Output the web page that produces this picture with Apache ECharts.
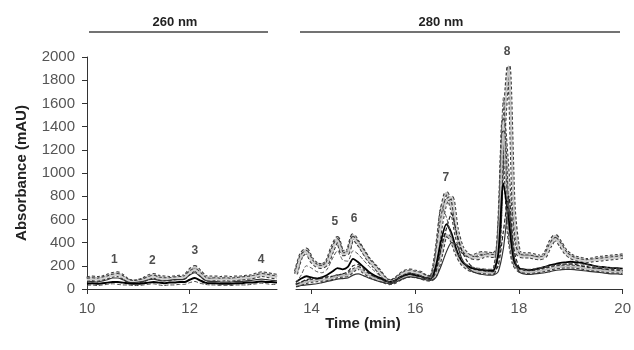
<!DOCTYPE html>
<html>
<head>
<meta charset="utf-8">
<title>Absorbance vs time</title>
<script src="https://cdn.jsdelivr.net/npm/echarts@6/dist/echarts.min.js"></script>
<style>
  html, body { margin: 0; padding: 0; background: #fff; }
  #chart { width: 634px; height: 350px; }
</style>
</head>
<body>
<div id="chart"></div>
<script>
// 260 nm window (10.0 - 13.7 min)
const leftTimes = [10.0, 10.1, 10.2, 10.3, 10.4, 10.5, 10.6, 10.7, 10.8, 10.9, 11.0, 11.1, 11.2, 11.3, 11.4, 11.5, 11.6, 11.7, 11.8, 11.9,
  12.0, 12.1, 12.2, 12.3, 12.4, 12.5, 12.6, 12.7, 12.8, 12.9, 13.0, 13.1, 13.2, 13.3, 13.4, 13.5, 13.6, 13.7];
const l1 = [90, 100, 95, 100, 115, 130, 135, 110, 75, 65, 70, 85, 110, 120, 105, 100, 95, 100, 105, 110,
  160, 190, 150, 105, 100, 100, 95, 100, 95, 100, 100, 105, 110, 125, 135, 130, 120, 115];
const l2 = [80, 85, 80, 90, 100, 115, 120, 100, 70, 60, 65, 75, 95, 105, 90, 85, 85, 90, 95, 100,
  140, 165, 130, 90, 80, 85, 80, 85, 80, 85, 90, 95, 100, 110, 120, 115, 105, 100];
const l3 = [60, 65, 60, 70, 80, 95, 95, 80, 60, 55, 60, 65, 80, 85, 75, 70, 75, 80, 80, 85,
  120, 140, 110, 75, 65, 65, 60, 60, 60, 65, 65, 70, 75, 80, 85, 80, 75, 70];
const l4 = [45, 50, 45, 50, 55, 60, 60, 55, 50, 45, 45, 50, 55, 60, 55, 50, 55, 55, 60, 60,
  80, 95, 75, 55, 50, 50, 45, 45, 45, 50, 50, 55, 55, 60, 65, 60, 60, 55];
const l5 = [30, 35, 30, 35, 40, 45, 40, 35, 35, 30, 30, 35, 40, 45, 35, 30, 35, 35, 40, 40,
  55, 65, 50, 40, 35, 35, 30, 30, 30, 35, 35, 35, 40, 45, 50, 45, 40, 40];

// 280 nm window (13.7 - 20.0 min)
const rightTimes = [13.7, 13.8, 13.9, 14.0, 14.1, 14.2, 14.3, 14.4, 14.5, 14.6, 14.7, 14.8, 14.9, 15.0, 15.1, 15.2,
  15.3, 15.4, 15.5, 15.6, 15.7, 15.8, 15.9, 16.0, 16.1, 16.2, 16.3, 16.4, 16.5, 16.6, 16.7, 16.8,
  16.9, 17.0, 17.1, 17.2, 17.3, 17.4, 17.5, 17.6, 17.7, 17.8, 17.9, 18.0, 18.1, 18.2, 18.3, 18.4,
  18.5, 18.6, 18.7, 18.8, 18.9, 19.0, 19.1, 19.2, 19.3, 19.4, 19.5, 19.6, 19.7, 19.8, 19.9, 20.0];
const r1 = [150, 300, 340, 260, 215, 205, 240, 360, 440, 320, 330, 465, 400, 330, 260, 210,
  160, 100, 70, 80, 120, 150, 160, 150, 140, 110, 100, 300, 650, 830, 700, 450,
  330, 290, 280, 300, 310, 305, 300, 350, 1300, 1920, 700, 320, 300, 300, 290, 280,
  300, 400, 460, 400, 330, 290, 270, 260, 250, 255, 265, 270, 275, 280, 285, 290];
const r2 = [130, 280, 320, 240, 200, 190, 220, 330, 420, 300, 310, 440, 390, 320, 250, 200,
  150, 95, 65, 75, 110, 140, 150, 140, 130, 105, 95, 250, 560, 760, 790, 520,
  360, 300, 270, 265, 280, 290, 285, 290, 1450, 900, 380, 290, 280, 280, 270, 265,
  280, 370, 430, 380, 310, 275, 255, 245, 240, 245, 250, 255, 260, 265, 270, 275];
const r3 = [60, 90, 110, 100, 90, 100, 120, 150, 180, 170, 190, 260, 230, 190, 150, 120,
  100, 80, 60, 70, 100, 120, 130, 120, 110, 95, 90, 200, 420, 560, 480, 330,
  240, 200, 180, 170, 165, 160, 160, 300, 910, 600, 250, 180, 170, 165, 170, 180,
  190, 205, 215, 225, 230, 235, 230, 225, 215, 205, 195, 190, 185, 180, 180, 175];
const r4 = [40, 60, 80, 90, 95, 100, 105, 110, 120, 130, 150, 200, 210, 180, 140, 110,
  90, 70, 55, 65, 95, 115, 125, 115, 105, 90, 85, 150, 350, 520, 650, 480,
  330, 240, 190, 170, 160, 155, 150, 200, 500, 800, 350, 190, 165, 160, 165, 175,
  185, 195, 205, 210, 215, 215, 210, 200, 195, 185, 180, 175, 170, 165, 165, 160];
const r5 = [30, 45, 60, 70, 75, 80, 85, 95, 110, 115, 120, 160, 180, 150, 120, 95,
  80, 65, 50, 60, 85, 105, 115, 110, 100, 85, 80, 130, 300, 470, 420, 300,
  220, 180, 160, 150, 145, 140, 140, 400, 1350, 500, 220, 160, 150, 145, 150, 155,
  165, 175, 185, 190, 195, 195, 190, 185, 175, 170, 165, 160, 155, 150, 150, 145];
const r6 = [20, 30, 35, 40, 45, 55, 65, 75, 85, 90, 95, 120, 130, 115, 95, 80,
  65, 55, 45, 55, 75, 95, 105, 100, 90, 80, 75, 100, 200, 320, 400, 380,
  260, 190, 150, 135, 125, 120, 120, 150, 350, 700, 300, 150, 130, 125, 130, 135,
  140, 150, 160, 165, 170, 170, 165, 160, 155, 150, 145, 140, 135, 130, 130, 125];
const r7 = [50, 120, 200, 180, 150, 140, 170, 260, 330, 250, 240, 330, 300, 250, 200, 160,
  120, 85, 60, 70, 100, 130, 140, 130, 115, 95, 90, 350, 720, 620, 450, 320,
  250, 210, 190, 180, 175, 170, 170, 600, 1650, 450, 200, 175, 170, 170, 175, 180,
  190, 200, 205, 210, 215, 220, 220, 215, 210, 200, 195, 190, 185, 180, 175, 175];

// peak numbers
const peakNames = ['1', '2', '3', '4', '5', '6', '7', '8'];
const peakTimes = [10.53, 11.27, 12.1, 13.39, 14.45, 14.82, 16.59, 17.77];
const peakLabelY = [250, 241, 328, 250, 578, 603, 957, 2043];

const yTicks = [0, 200, 400, 600, 800, 1000, 1200, 1400, 1600, 1800, 2000];

const FONT = 'Liberation Sans, Arial, sans-serif';

function trace(times, values, axis, lineStyle) {
  return {
    type: 'line',
    xAxisIndex: axis,
    yAxisIndex: axis,
    data: times.map((t, i) => [t, values[i]]),
    symbol: 'none',
    smooth: 0.25,
    silent: true,
    lineStyle: lineStyle,
  };
}
// gray band with dark dashed edges
function halo(times, values, axis, inner) {
  return [
    trace(times, values, axis, { color: '#3a3a3a', width: 4, type: [3, 2] }),
    trace(times, values, axis, { color: inner || '#c4c4c4', width: 2 }),
  ];
}

const series = [
  ...halo(leftTimes, l1, 0),
  ...halo(leftTimes, l2, 0, '#d0d0d0'),
  trace(leftTimes, l3, 0, { color: '#333', width: 1.2 }),
  trace(leftTimes, l4, 0, { color: '#000', width: 2 }),
  trace(leftTimes, l5, 0, { color: '#444', width: 1, type: [4, 2] }),

  ...halo(rightTimes, r1, 1),
  ...halo(rightTimes, r2, 1, '#cfcfcf'),
  ...halo(rightTimes, r5, 1, '#bdbdbd'),
  trace(rightTimes, r3, 1, { color: '#000', width: 1.8 }),
  trace(rightTimes, r4, 1, { color: '#222', width: 1.2, type: [4, 2] }),
  trace(rightTimes, r6, 1, { color: '#333', width: 1.2 }),
  trace(rightTimes, r7, 1, { color: '#555', width: 1, type: [4, 2] }),
];

[0, 1].forEach((axis) => {
  const idx = peakNames.map((n, i) => i).filter((i) => (axis === 0 ? peakTimes[i] < 13.7 : peakTimes[i] >= 13.7));
  series.push({
    type: 'scatter',
    xAxisIndex: axis,
    yAxisIndex: axis,
    clip: false,
    symbolSize: 0,
    silent: true,
    data: idx.map((i) => ({ value: [peakTimes[i], peakLabelY[i]], name: peakNames[i] })),
    label: {
      show: true,
      position: 'inside',
      formatter: (p) => p.name,
      fontFamily: FONT,
      fontWeight: 'bold',
      fontSize: 12,
      color: '#222',
    },
  });
});

const axisLine = { show: true, lineStyle: { color: '#333', width: 1 } };
const tickLabel = { fontFamily: FONT, fontSize: 15, color: '#555', formatter: (v) => String(v) };

const chart = echarts.init(document.getElementById('chart'), null, { renderer: 'canvas' });
chart.setOption({
  animation: false,
  backgroundColor: '#fff',
  grid: [
    { left: 87, top: 57, width: 190, height: 232 },
    { left: 296, top: 57, width: 327, height: 232 },
  ],
  xAxis: [
    {
      type: 'value', gridIndex: 0, min: 10, max: 13.7,
      axisLine: axisLine,
      axisTick: { show: true, length: 5, customValues: [10, 12], lineStyle: { color: '#333' } },
      axisLabel: Object.assign({ margin: 12, customValues: [10, 12] }, tickLabel),
      splitLine: { show: false },
    },
    {
      type: 'value', gridIndex: 1, min: 13.7, max: 20,
      axisLine: axisLine,
      axisTick: { show: true, length: 5, customValues: [14, 16, 18, 20], lineStyle: { color: '#333' } },
      axisLabel: Object.assign({ margin: 12, customValues: [14, 16, 18, 20] }, tickLabel),
      splitLine: { show: false },
    },
  ],
  yAxis: [
    {
      type: 'value', gridIndex: 0, min: 0, max: 2000,
      axisLine: axisLine,
      axisTick: { show: true, length: 5, customValues: yTicks, lineStyle: { color: '#333' } },
      axisLabel: Object.assign({ margin: 12, customValues: yTicks }, tickLabel),
      splitLine: { show: false },
      name: 'Absorbance (mAU)',
      nameLocation: 'middle',
      nameGap: 58,
      nameTextStyle: { fontFamily: FONT, fontWeight: 'bold', fontSize: 15, color: '#222' },
    },
    { type: 'value', gridIndex: 1, min: 0, max: 2000, show: false },
  ],
  graphic: [
    { type: 'text', style: { x: 175, y: 22, text: '260 nm', align: 'center', verticalAlign: 'middle', font: 'bold 13px ' + FONT, fill: '#222' } },
    { type: 'line', shape: { x1: 89, y1: 32, x2: 268, y2: 32 }, style: { stroke: '#444', lineWidth: 1.5 } },
    { type: 'text', style: { x: 441, y: 22, text: '280 nm', align: 'center', verticalAlign: 'middle', font: 'bold 13px ' + FONT, fill: '#222' } },
    { type: 'line', shape: { x1: 300, y1: 32, x2: 620, y2: 32 }, style: { stroke: '#444', lineWidth: 1.5 } },
    { type: 'text', style: { x: 363, y: 324, text: 'Time (min)', align: 'center', verticalAlign: 'middle', font: 'bold 15px ' + FONT, fill: '#222' } },
  ],
  series: series,
});
</script>
</body>
</html>
